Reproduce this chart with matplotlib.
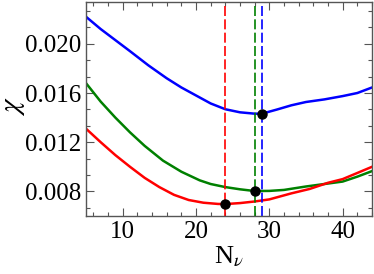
import matplotlib
matplotlib.use("Agg")

import matplotlib.pyplot as plt
from matplotlib.ticker import MultipleLocator

plt.rcParams["font.family"] = "Liberation Serif"
plt.rcParams["mathtext.fontset"] = "stix"

# chi vs number of basis functions, three cases
blue_x = [5, 7, 9, 11, 13.5, 16, 18, 20, 22, 24, 26, 28, 29, 31, 33, 35, 37.5, 40, 42, 44]
blue_y = [0.0222, 0.0212, 0.0203, 0.0194, 0.01825, 0.0172, 0.01645, 0.0158, 0.01515, 0.01468,
          0.01443, 0.01432, 0.01432, 0.01465, 0.0150, 0.01527, 0.01548, 0.01575, 0.0160, 0.01645]

green_x = [5, 7, 9, 11, 13, 15.5, 18, 20.5, 22, 24, 26, 28, 30, 32, 35, 37.5, 40, 42, 44]
green_y = [0.0168, 0.0153, 0.0140, 0.0128, 0.0117, 0.0105, 0.0096, 0.0089, 0.0086, 0.00835,
           0.00817, 0.00803, 0.00804, 0.00812, 0.0084, 0.0086, 0.0088, 0.0092, 0.00965]

red_x = [5, 7, 9, 11, 13, 15, 17, 19, 21, 23, 24, 26, 28, 30, 33, 35.5, 38, 40, 42, 44]
red_y = [0.0131, 0.0120, 0.01095, 0.0100, 0.0091, 0.00835, 0.00772, 0.00730, 0.00708, 0.00698,
         0.00697, 0.00705, 0.00718, 0.00735, 0.00784, 0.0082, 0.0087, 0.0090, 0.0095, 0.0100]

# optimal N for each curve
opt_n = [24, 28, 29]
opt_chi = [0.00697, 0.00803, 0.01432]
colors = ["#ff0000", "#008000", "#0000ff"]


def main():
    fig = plt.figure(figsize=(3.74, 2.74), dpi=100)
    ax = fig.add_axes([0.23, 0.2117, 0.7647, 0.781])

    ax.plot(blue_x, blue_y, color="#0000ff", lw=1.8)
    ax.plot(green_x, green_y, color="#008000", lw=1.8)
    ax.plot(red_x, red_y, color="#ff0000", lw=1.8)

    for n, c in zip(opt_n, colors):
        ax.axvline(n, color=c, lw=1.2, dashes=(6, 2))
    ax.plot(opt_n, opt_chi, "o", color="black", ms=6.5, zorder=5)

    ax.set_xlim(5, 44)
    ax.set_ylim(0.006, 0.0234)
    ax.xaxis.set_major_locator(MultipleLocator(10))
    ax.xaxis.set_minor_locator(MultipleLocator(2))
    ax.yaxis.set_major_locator(MultipleLocator(0.004))
    ax.yaxis.set_minor_locator(MultipleLocator(0.004 / 3))
    ax.yaxis.set_major_formatter(plt.FuncFormatter(lambda v, p: f"{v:.3f}"))

    ax.tick_params(which="both", direction="in", top=True, right=True,
                   color="#555555", labelsize=18)
    ax.tick_params(which="major", length=6, width=0.8)
    ax.tick_params(which="minor", length=3, width=0.8)
    for s in ax.spines.values():
        s.set_color("#555555")
        s.set_linewidth(1.0)

    ax.set_xlabel(r"N$_\nu$", fontsize=19, labelpad=1)
    # y label sits tight against the left edge
    fig.text(14 / 374, 1 - 106 / 274, r"$\chi$", fontsize=21, rotation=90,
             ha="center", va="center")

    fig.savefig("out.png", dpi=100)


if __name__ == "__main__":
    main()
